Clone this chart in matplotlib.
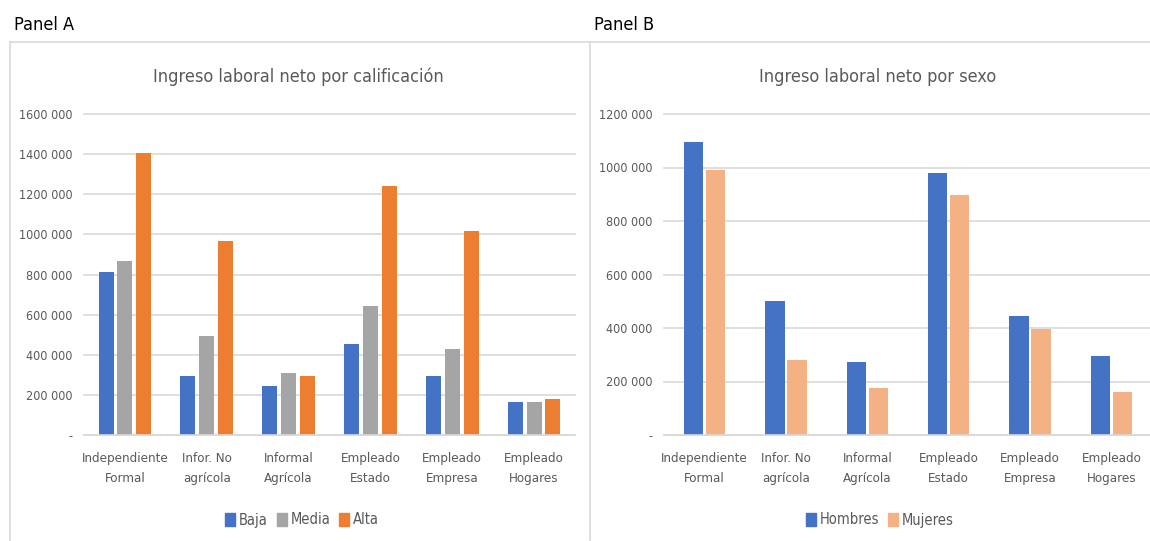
import matplotlib
matplotlib.use("Agg")
import matplotlib.pyplot as plt
import numpy as np
from matplotlib.lines import Line2D
from matplotlib.patches import Patch
from matplotlib.ticker import FuncFormatter, MultipleLocator

plt.rcParams['font.family'] = ['DejaVu Sans']
plt.rcParams['font.stretch'] = 'condensed'

categorias = ["Independiente\nFormal", "Infor. No\nagrícola", "Informal\nAgrícola",
              "Empleado\nEstado", "Empleado\nEmpresa", "Empleado\nHogares"]

# Panel A: ingreso por calificación
baja = [812000, 295000, 245000, 455000, 295000, 165000]
media = [868000, 492000, 310000, 645000, 427000, 165000]
alta = [1408000, 965000, 295000, 1240000, 1015000, 180000]

# Panel B: ingreso por sexo
hombres = [1094000, 501000, 272000, 981000, 446000, 294000]
mujeres = [990000, 279000, 174000, 898000, 397000, 159000]

AZUL = "#4472C4"
GRIS = "#A5A5A5"
NARANJA = "#ED7D31"
SALMON = "#F4B183"
TXT = "#595959"
GRID = "#D9D9D9"

W, H = 1150, 541
fig = plt.figure(figsize=(W / 100, H / 100), dpi=100)


def fmt(v, pos):
    if v == 0:
        return "-"
    return f"{int(round(v / 1000))} 000"


def px_axes(x0, x1, ytop, ybot):
    return fig.add_axes([x0 / W, 1 - ybot / H, (x1 - x0) / W, (ybot - ytop) / H])


def estilo(ax, ymax, paso):
    ax.set_ylim(0, ymax)
    ax.set_xlim(-0.5, 5.5)
    ax.yaxis.set_major_locator(MultipleLocator(paso))
    ax.yaxis.set_major_formatter(FuncFormatter(fmt))
    ax.grid(axis="y", color=GRID, linewidth=1.2)
    ax.set_axisbelow(True)
    for gl in ax.get_ygridlines():
        gl.set_clip_on(False)
    for s in ["top", "right", "left"]:
        ax.spines[s].set_visible(False)
    ax.spines["bottom"].set_color(GRID)
    ax.spines["bottom"].set_linewidth(1.2)
    ax.tick_params(axis="both", length=0, colors=TXT, labelsize=9)
    ax.tick_params(axis="y", pad=8.5)
    ax.tick_params(axis="x", pad=12)
    ax.set_xticks(np.arange(len(categorias)))
    ax.set_xticklabels(categorias, fontsize=9.5, linespacing=1.75)


x = np.arange(len(categorias))

# Panel A
axA = px_axes(84, 575, 114, 435)
w = 0.185
axA.bar(x - 0.23, baja, w, color=AZUL)
axA.bar(x, media, w, color=GRIS)
axA.bar(x + 0.23, alta, w, color=NARANJA)
estilo(axA, 1600000, 200000)

# Panel B
axB = px_axes(664, 1152, 114, 435)
wb = 0.235
axB.bar(x - 0.135, hombres, wb, color=AZUL)
axB.bar(x + 0.135, mujeres, wb, color=SALMON)
estilo(axB, 1200000, 200000)

# marcos de los paneles
for xs, ys in [([10 / W, 10 / W], [1 - 42 / H, 0]),
               ([10 / W, 1], [1 - 42 / H, 1 - 42 / H]),
               ([590 / W, 590 / W], [1 - 42 / H, 1 - 540 / H])]:
    fig.add_artist(Line2D(xs, ys, color=GRID, linewidth=1.2))

fig.text(14 / W, 1 - 25 / H, "Panel A", fontsize=13, va="center", ha="left", color="black")
fig.text(594 / W, 1 - 25 / H, "Panel B", fontsize=13, va="center", ha="left", color="black")

fig.text(298 / W, 1 - 77 / H, "Ingreso laboral neto por calificación",
         fontsize=13, ha="center", va="center", color=TXT)
fig.text(878 / W, 1 - 77 / H, "Ingreso laboral neto por sexo",
         fontsize=13, ha="center", va="center", color=TXT)

legA = [Patch(color=AZUL, label="Baja"), Patch(color=GRIS, label="Media"),
        Patch(color=NARANJA, label="Alta")]
fig.legend(handles=legA, loc="center", bbox_to_anchor=(302 / W, 1 - 520 / H), ncol=3,
           frameon=False, fontsize=10.5, handlelength=0.7, handleheight=0.9,
           handletextpad=0.25, columnspacing=0.6, labelcolor=TXT)

legB = [Patch(color=AZUL, label="Hombres"), Patch(color=SALMON, label="Mujeres")]
fig.legend(handles=legB, loc="center", bbox_to_anchor=(880 / W, 1 - 520 / H), ncol=2,
           frameon=False, fontsize=10.5, handlelength=0.7, handleheight=0.9,
           handletextpad=0.25, columnspacing=0.6, labelcolor=TXT)

fig.savefig("out.png", dpi=100)
